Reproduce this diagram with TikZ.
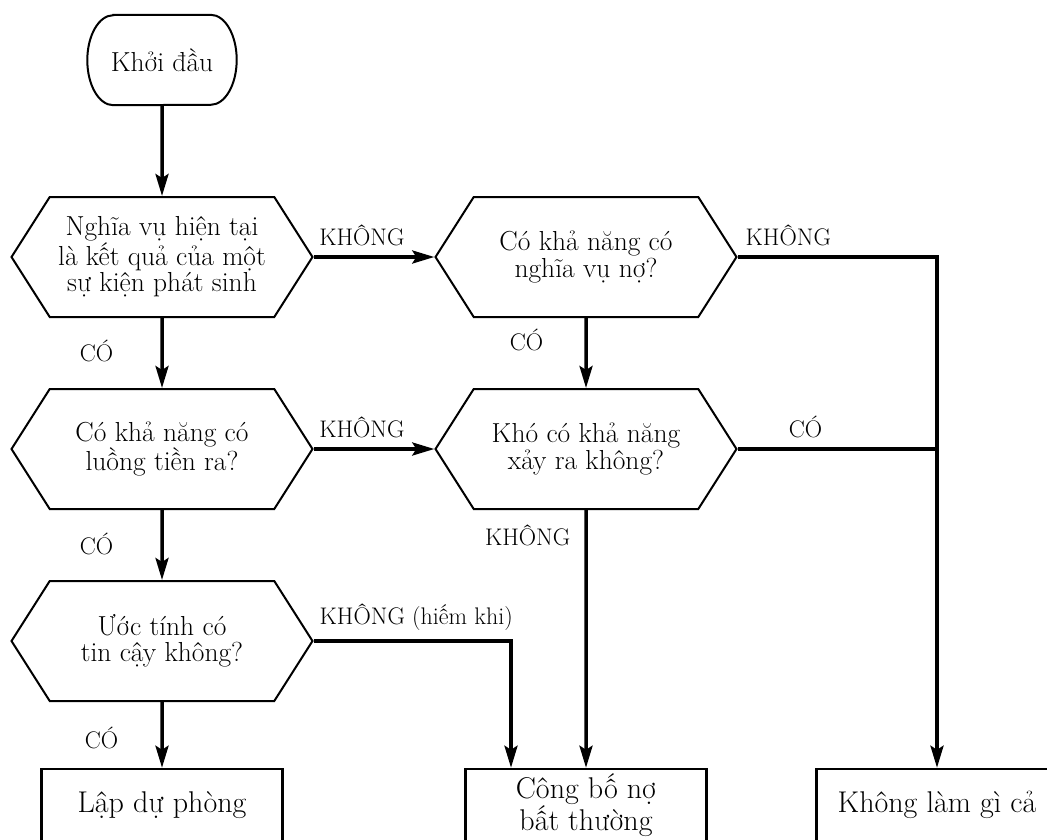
\documentclass[tikz,border=0pt]{standalone}
\usepackage{fontspec}
\usetikzlibrary{positioning, shapes.symbols, arrows.meta}

\tikzset{
        decision/.style={signal, signal to=east and west, signal pointer angle=115, draw, line width=2pt,
                minimum width=301pt, minimum height=120pt, inner sep=0pt, align=center,
                font=\fontsize{27.5}{26.5}\selectfont},
        outcome/.style={rectangle, draw, line width=2.5pt, minimum width=241pt, minimum height=72pt,
                inner sep=0pt, align=center, font=\fontsize{30}{25}\selectfont},
        flow/.style={line width=3.5pt, -{Stealth[length=22pt, width=13pt, inset=4pt]}},
        link/.style={line width=3.5pt},
        answer/.style={inner sep=0pt, font=\fontsize{24}{26}\selectfont},
}

\begin{document}
\begin{tikzpicture}[x=1pt, y=-1pt]

        \path[use as bounding box, clip] (0,0) rectangle (1047,839);

        \newcommand{\capx}{26pt}
        \newcommand{\capy}{45pt}

        \node[minimum width=149pt, minimum height=90pt, inner sep=0pt, font=\fontsize{27.5}{26}\selectfont] (start) at (162,60) {Khởi đầu};
        \draw[line width=2pt] ([xshift=\capx]start.north west) -- ([xshift=-\capx]start.north east)
                arc[start angle=90, end angle=-90, x radius=\capx, y radius=\capy]
                -- ([xshift=\capx]start.south west)
                arc[start angle=270, end angle=90, x radius=\capx, y radius=\capy] -- cycle;

        \node[decision] (event) at (162,257) {Nghĩa vụ hiện tại\\là kết quả của một\\sự kiện phát sinh};
        \node[decision] (outflow) at (162,449) {Có khả năng có\\luồng tiền ra?};
        \node[decision] (estimate) at (162,641) {Ước tính có\\tin cậy không?};
        \node[decision] (possible) at (586,257) {Có khả năng có\\nghĩa vụ nợ?};
        \node[decision] (remote) at (586,449) {Khó có khả năng\\xảy ra không?};

        \node[outcome] (provide) at (162,805) {Lập dự phòng};
        \node[outcome] (disclose) at (586,805) {Công bố nợ\\bất thường};
        \node[outcome] (nothing) at (937,805) {Không làm gì cả};

        \draw[flow] (start) -- (event);
        \draw[flow] (event) -- (outflow) node[answer, left=47pt, pos=.47] (yesA) {CÓ};
        \draw[flow] (outflow) -- (estimate) node[answer, left=47pt, pos=.48] (yesB) {CÓ};
        \draw[flow] (estimate) -- (provide) node[answer, left=42pt, pos=.54] (yesC) {CÓ};

        \draw[flow] (event.east) -- (possible.west) node[answer, above=9pt, pos=.4] (noA) {KHÔNG};
        \draw[flow] (outflow.east) -- (remote.west) node[answer, above=9pt, pos=.4] (noB) {KHÔNG};
        \draw[flow] (possible) -- (remote) node[answer, left=41pt, pos=.31] (yesD) {CÓ};
        \draw[flow] (remote) -- (disclose) node[answer, left=14pt, pos=.1] (noC) {KHÔNG};
        \draw[flow] (estimate.east) -| ([xshift=-75pt]disclose.north) node[answer, above=9pt, pos=.26] (noD) {KHÔNG (hiếm khi)};

        \draw[flow] (possible.east) -| (nothing.north) node[answer, above=9pt, pos=.127] (noE) {KHÔNG};
        \draw[link] (remote.east) -- (remote.east -| nothing.north) node[answer, above=9pt, pos=.34] (yesE) {CÓ};

\end{tikzpicture}
\end{document}
